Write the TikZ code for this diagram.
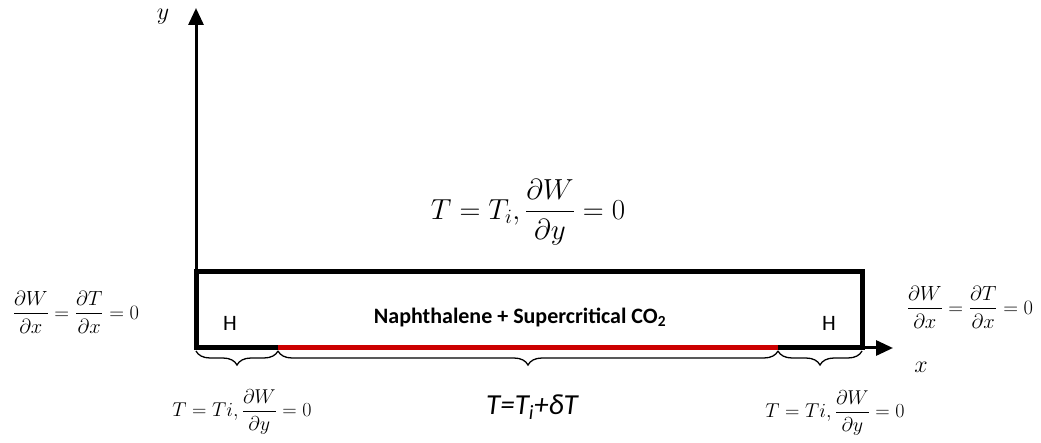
\RequirePackage{fix-cm}
\documentclass[tikz,border=0pt]{standalone}
\usepackage{fontspec}
\usepackage{amsmath}
\usetikzlibrary{arrows.meta, decorations.pathreplacing}
\newfontfamily\carlito{Carlito}
\colorlet{heatred}{red!80!black}
\tikzset{
  wall/.style={line width=5pt},
  bracebelow/.style={decorate, decoration={brace, amplitude=14pt, mirror}, line width=1.3pt},
}

\begin{document}
\begin{tikzpicture}[x=1pt, y=-1pt, >={Triangle[width=15pt, length=17pt]}]
    \useasboundingbox (0,0) rectangle (1041,443);

    % Corners and axis ends
    \coordinate (O) at (196,348);
    \coordinate (tl) at (196,272);
    \coordinate (tr) at (862,272);
    \coordinate (br) at (862,348);
    \coordinate (hl) at (278,348);
    \coordinate (hr) at (778,348);
    \coordinate (xend) at (893,348);
    \coordinate (yend) at (196,8);

    % Axes
    \draw[->, line width=3pt] (O) -- (xend);
    \draw[->, line width=3pt] (O) -- (yend);
    \node (ylab) at (163,17) {\fontsize{24}{28}\selectfont$y$};
    \node (xlab) at (921,367) {\fontsize{24}{28}\selectfont$x$};

    % Channel walls
    \draw[wall, line cap=rect] (O) -- (tl) -- (tr) -- (br);
    \draw[wall] (O) -- (hl);
    \draw[wall, heatred] (hl) -- (hr);
    \draw[wall] (hr) -- (br);

    % Labels inside
    \node (hleft) at (230,323) {\fontsize{22}{26}\selectfont\carlito H};
    \node (hright) at (829,323) {\fontsize{22}{26}\selectfont\carlito H};
    \node (fluid) at (520,317) {\fontsize{22}{26}\selectfont\carlito\bfseries Naphthalene + Supercritical CO\textsubscript{2}};

    % Boundary conditions
    \node (top) at (528,212) {\fontsize{29}{34}\selectfont$\displaystyle T = T_i, \frac{\partial W}{\partial y} = 0$};
    \node (inlet) at (76,312) {\fontsize{20.5}{24}\selectfont$\displaystyle \frac{\partial W}{\partial x} = \frac{\partial T}{\partial x} = 0$};
    \node (outlet) at (970,307) {\fontsize{20.5}{24}\selectfont$\displaystyle \frac{\partial W}{\partial x} = \frac{\partial T}{\partial x} = 0$};

    % Braces below the bottom wall
    \draw[bracebelow] ([yshift=-3pt]O) -- ([yshift=-3pt]hl);
    \draw[bracebelow] ([yshift=-3pt]hl) -- ([yshift=-3pt]hr);
    \draw[bracebelow] ([yshift=-3pt]hr) -- ([yshift=-3pt]br);
    \node (bcleft) at (242,412) {\fontsize{20}{24}\selectfont$\displaystyle T = Ti, \frac{\partial W}{\partial y} = 0$};
    \node (bcheat) at (532,407) {\fontsize{29}{34}\selectfont\carlito\itshape T=T\textsubscript{i}+δT};
    \node (bcright) at (835,413) {\fontsize{20}{24}\selectfont$\displaystyle T = Ti, \frac{\partial W}{\partial y} = 0$};
\end{tikzpicture}
\end{document}
